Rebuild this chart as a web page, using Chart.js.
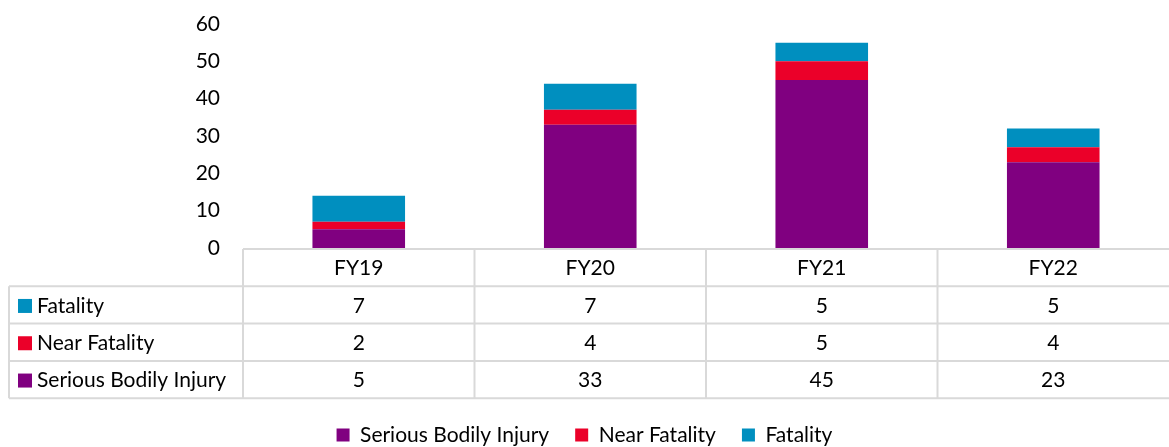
<!DOCTYPE html>
<html>
<head>
<meta charset="utf-8">
<title>Incidents by fiscal year</title>
<script src="https://cdn.jsdelivr.net/npm/chart.js@4"></script>
<style>
  body { margin: 0; background: #fff; }
  #wrap { width: 1169px; height: 447px; position: relative; }
</style>
</head>
<body>
<div id="wrap"><canvas id="chart"></canvas></div>
<script>
// data
const years = ['FY19', 'FY20', 'FY21', 'FY22'];
const seriousInjury = [5, 33, 45, 23];
const nearFatality = [2, 4, 5, 4];
const fatality = [7, 7, 5, 5];
const yTicks = [0, 10, 20, 30, 40, 50, 60];

const FONT = 'Lato, "Open Sans", sans-serif';
const FONT_SIZE = 21;
const LINE = '#d9d9d9';

// draws the data table under the bars, columns follow the x scale
const dataTable = {
  id: 'dataTable',
  afterDraw(chart) {
    const { ctx, chartArea, scales: { x } } = chart;
    const top = chartArea.bottom + 1;
    const rowH = 37.3;
    const half = (x.getPixelForValue(1) - x.getPixelForValue(0)) / 2;
    const right = chart.width;
    const labelLeft = 9;
    const rows = chart.data.datasets.slice().reverse();
    const bottom = top + rowH * (rows.length + 1);

    ctx.save();
    ctx.strokeStyle = LINE;
    ctx.lineWidth = 2;
    ctx.beginPath();
    ctx.moveTo(x.getPixelForValue(0) - half, top); ctx.lineTo(right, top);
    for (let r = 1; r <= rows.length + 1; r++) {
      ctx.moveTo(labelLeft, top + rowH * r); ctx.lineTo(right, top + rowH * r);
    }
    ctx.moveTo(labelLeft, top + rowH); ctx.lineTo(labelLeft, bottom);
    years.forEach((_, i) => {
      const cx = x.getPixelForValue(i) - half;
      ctx.moveTo(cx, top); ctx.lineTo(cx, bottom);
    });
    ctx.stroke();

    ctx.font = FONT_SIZE + 'px ' + FONT;
    ctx.fillStyle = '#000';
    ctx.textBaseline = 'middle';
    ctx.textAlign = 'center';
    years.forEach((y, i) => ctx.fillText(y, x.getPixelForValue(i), top + rowH / 2 + 1));

    rows.forEach((ds, r) => {
      const cy = top + rowH * (r + 1) + rowH / 2 + 1;
      ctx.fillStyle = ds.backgroundColor;
      ctx.fillRect(labelLeft + 9, cy - 7, 14, 14);
      ctx.fillStyle = '#000';
      ctx.textAlign = 'left';
      ctx.fillText(ds.label, labelLeft + 28, cy);
      ctx.textAlign = 'center';
      ds.data.forEach((v, i) => ctx.fillText(String(v), x.getPixelForValue(i), cy));
    });
    ctx.restore();
  }
};

new Chart(document.getElementById('chart'), {
  type: 'bar',
  data: {
    labels: years,
    datasets: [
      { label: 'Serious Bodily Injury', data: seriousInjury, backgroundColor: '#800080' },
      { label: 'Near Fatality', data: nearFatality, backgroundColor: '#eb0029' },
      { label: 'Fatality', data: fatality, backgroundColor: '#008fbf' }
    ]
  },
  options: {
    responsive: true,
    maintainAspectRatio: false,
    animation: false,
    layout: { padding: { top: 24, left: 0, right: 0, bottom: -8.5 } },
    datasets: { bar: { categoryPercentage: 1, barPercentage: 0.4 } },
    scales: {
      x: {
        stacked: true,
        grid: { display: false, drawTicks: false },
        border: { display: false },
        ticks: { display: false },
        afterFit: s => { s.height = 150.5; }
      },
      y: {
        stacked: true,
        min: 0,
        max: 60,
        afterBuildTicks: s => { s.ticks = yTicks.map(v => ({ value: v })); },
        grid: { display: false, drawTicks: false },
        border: { display: false },
        ticks: { color: '#000', padding: 23, font: { family: FONT, size: FONT_SIZE } },
        afterFit: s => {
          s.width = 243;
          s.paddingTop = 0;
          s.paddingBottom = 0;
        }
      }
    },
    plugins: {
      legend: {
        position: 'bottom',
        labels: {
          color: '#000',
          boxWidth: 13,
          boxHeight: 13,
          padding: 26,
          font: { family: FONT, size: FONT_SIZE }
        }
      },
      tooltip: { enabled: false }
    }
  },
  plugins: [dataTable]
});
</script>
</body>
</html>
